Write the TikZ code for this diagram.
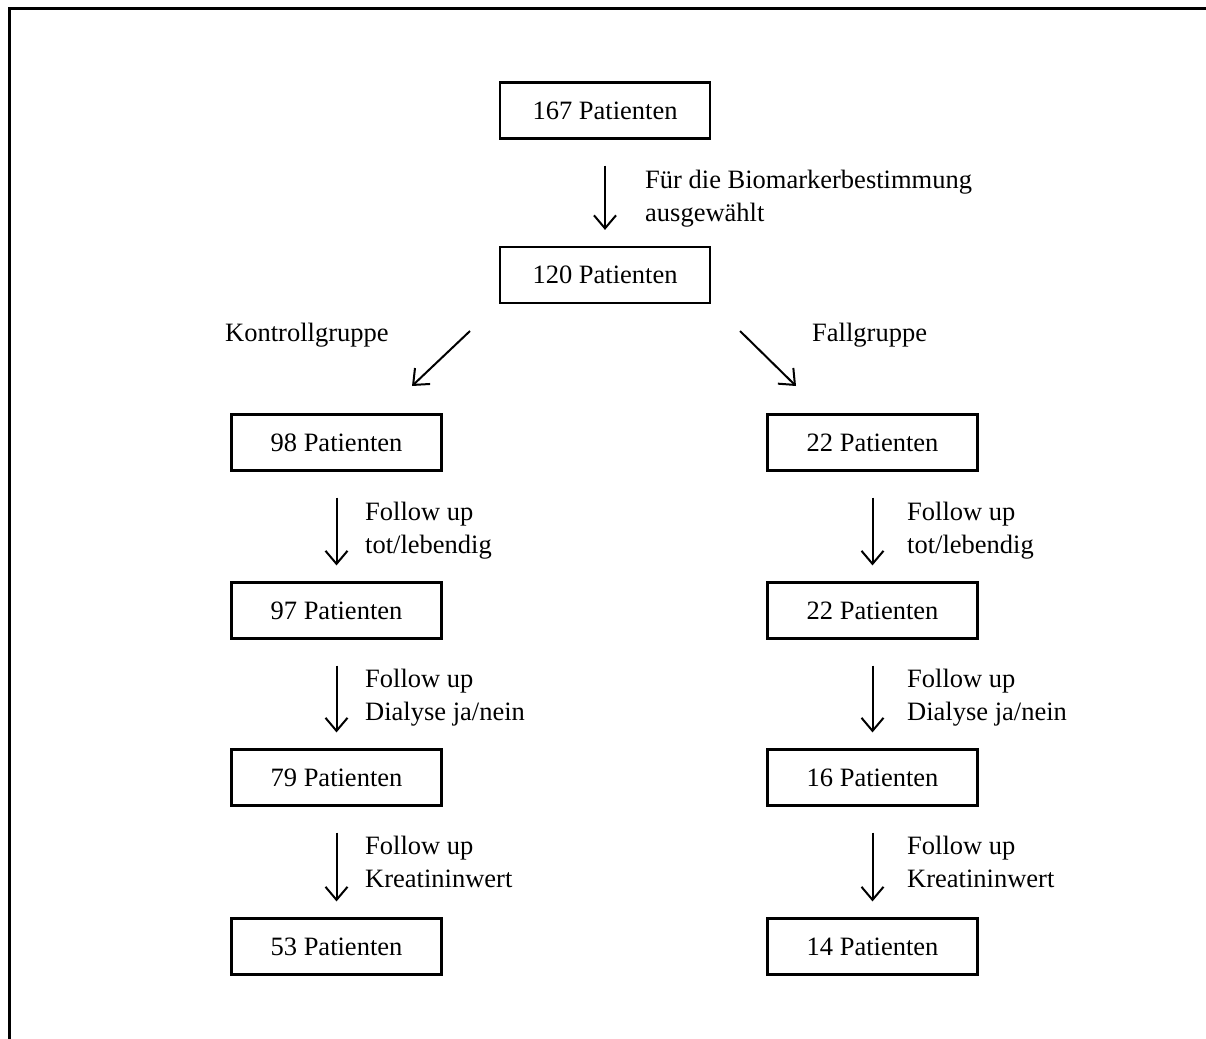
\documentclass[tikz,border=0pt]{standalone}
\usepackage{fontspec}
\setmainfont{Liberation Serif}
\usetikzlibrary{arrows.meta}
\begin{document}
\begin{tikzpicture}[x=1pt,y=-1pt,
  box/.style={draw, line width=2.2pt, minimum width=210pt, minimum height=56pt, inner sep=0pt, font=\fontsize{26.5}{33}\selectfont},
  lbl/.style={anchor=base west, inner sep=0pt, font=\fontsize{26.5}{33}\selectfont},
  arr/.style={line width=2pt, -{Straight Barb[length=13pt,width=22pt,line width=2pt]}},
  varr/.style={arr, shorten <=26pt, shorten >=16pt}]
\useasboundingbox (0,0) rectangle (1206,1038);
\draw[line width=3pt] (9,1040) -- (9,9) -- (1208,9);

\node[box] (p167) at (605,110.5) {167 Patienten};
\node[box] (p120) at (605,275) {120 Patienten};
\node[box] (l98) at (336.5,442.5) {98 Patienten};
\node[box] (l97) at (336.5,610.5) {97 Patienten};
\node[box] (l79) at (336.5,777.5) {79 Patienten};
\node[box] (l53) at (336.5,946.5) {53 Patienten};
\node[box] (r22a) at (872.5,442.5) {22 Patienten};
\node[box] (r22b) at (872.5,610.5) {22 Patienten};
\node[box] (r16) at (872.5,777.5) {16 Patienten};
\node[box] (r14) at (872.5,946.5) {14 Patienten};

\draw[varr] (p167) -- (p120);
\draw[varr] (l98) -- (l97);
\draw[varr] (l97) -- (l79);
\draw[varr] (l79) -- (l53);
\draw[varr] (r22a) -- (r22b);
\draw[varr] (r22b) -- (r16);
\draw[varr] (r16) -- (r14);

\coordinate (dls) at (470,331);
\coordinate (dle) at (412,386);
\coordinate (drs) at (740,331);
\coordinate (dre) at (796,386);
\draw[arr] (dls) -- (dle);
\draw[arr] (drs) -- (dre);

\node[lbl] (t1) at (645,188) {Für die Biomarkerbestimmung};
\node[lbl] (t2) at (645,221) {ausgewählt};
\node[lbl] (kg) at (225,341) {Kontrollgruppe};
\node[lbl] (fg) at (812,341) {Fallgruppe};

\node[lbl] (la1) at (365,520) {Follow up};
\node[lbl] (la2) at (365,553) {tot/lebendig};
\node[lbl] (lb1) at (365,687) {Follow up};
\node[lbl] (lb2) at (365,720) {Dialyse ja/nein};
\node[lbl] (lc1) at (365,854) {Follow up};
\node[lbl] (lc2) at (365,887) {Kreatininwert};

\node[lbl] (ra1) at (907,520) {Follow up};
\node[lbl] (ra2) at (907,553) {tot/lebendig};
\node[lbl] (rb1) at (907,687) {Follow up};
\node[lbl] (rb2) at (907,720) {Dialyse ja/nein};
\node[lbl] (rc1) at (907,854) {Follow up};
\node[lbl] (rc2) at (907,887) {Kreatininwert};
\end{tikzpicture}
\end{document}
